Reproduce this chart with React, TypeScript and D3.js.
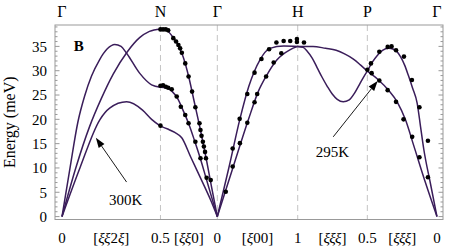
import React from 'react';
import * as d3 from 'd3';

// path legs through the bcc zone: reduced coord range and length per unit of xi
const SQ2 = Math.SQRT2;
const SQ3 = Math.sqrt(3);
const SQ6 = Math.sqrt(6);
const legs = [
  { from: 0, to: 0.5, k: SQ6, mid: '[ξξ2ξ]' },
  { from: 0.5, to: 0, k: SQ2, mid: '[ξξ0]' },
  { from: 0, to: 1, k: 1, mid: '[ξ00]' },
  { from: 1, to: 0.5, k: SQ3, mid: '[ξξξ]' },
  { from: 0.5, to: 0, k: SQ3, mid: '[ξξξ]' },
];
const points = ['Γ', 'N', 'Γ', 'H', 'P', 'Γ'];
const pointTicks = ['0', '0.5', '0', '1', '0.5', '0'];
const yMajor = [0, 5, 10, 15, 20, 25, 30, 35];

// calculated dispersion branches, [xi, meV], one list per leg
const gnA = [[0, 0], [0.04, 9.8], [0.081, 19.5], [0.115, 24.8], [0.15, 28.9], [0.19, 32.2], [0.23, 34.5], [0.268, 35.4], [0.3, 35], [0.328, 33.6], [0.394, 29.5], [0.455, 27.1], [0.5, 26.6]];
const gnB = [[0, 0], [0.07, 10], [0.14, 18.5], [0.2, 24.3], [0.26, 29.3], [0.33, 33.8], [0.394, 36.8], [0.444, 38.1], [0.5, 38.6]];
const gnC = [[0, 0], [0.091, 10], [0.192, 19.9], [0.242, 22.3], [0.328, 23.6], [0.409, 21.9], [0.455, 20], [0.5, 18.6]];
const ngA = [[0.5, 26.6], [0.45, 26.5], [0.4, 25.8], [0.35, 24.3], [0.3, 21.8], [0.25, 19], [0.2, 15.6], [0.15, 12], [0.1, 8], [0.05, 4], [0, 0]];
const ngB = [[0.5, 38.6], [0.45, 38.4], [0.4, 37.2], [0.35, 35.5], [0.3, 32.8], [0.25, 28.6], [0.2, 23.3], [0.15, 18], [0.1, 12.2], [0.05, 6], [0, 0]];
const ngC = [[0.5, 18.6], [0.436, 18], [0.374, 17.3], [0.313, 16.2], [0.233, 12.2], [0.145, 7.8], [0.057, 3.3], [0, 0]];
const ghT = [[0, 0], [0.143, 10], [0.28, 20], [0.392, 26.8], [0.529, 32.2], [0.653, 34.6], [0.827, 35.1], [1, 35]];
const ghL = [[0, 0], [0.193, 10], [0.388, 20], [0.504, 25.5], [0.616, 29.1], [0.74, 32.2], [0.902, 34.3], [1, 35]];
const hpU = [[1, 35], [0.89, 35], [0.8, 34.6], [0.724, 34.2], [0.66, 33.4], [0.6, 32.4], [0.55, 31.2], [0.5, 29.9]];
const hpD = [[1, 35], [0.961, 34.8], [0.932, 34], [0.896, 32.6], [0.86, 30.6], [0.824, 28.6], [0.788, 26.8], [0.752, 25.2], [0.716, 24.1], [0.673, 23.6], [0.63, 24], [0.594, 25.3], [0.558, 27.1], [0.529, 28.6], [0.5, 29.9]];
const pgU = [[0.5, 29.9], [0.463, 31.8], [0.427, 33.2], [0.391, 34.2], [0.348, 34.6], [0.312, 34.4], [0.262, 32.9], [0.233, 31.2], [0.205, 29], [0.176, 26.5], [0.142, 23.3], [0.118, 18.5], [0.095, 13.9], [0.047, 6.8], [0, 0]];
const pgD = [[0.5, 29.9], [0.42, 28.1], [0.348, 26], [0.284, 23.5], [0.226, 19.9], [0.169, 14.8], [0.083, 7], [0, 0]];
const curves = [[gnA, gnB, gnC], [ngA, ngB, ngC], [ghT, ghL], [hpU, hpD], [pgU, pgD]];

// measured points, [xi, meV], per leg
const ngDots = [
  [0.5, 38.5], [0.477, 38.5], [0.453, 38.5], [0.432, 38.3], [0.387, 36.7], [0.363, 36.0], [0.342, 35.3], [0.327, 34.6], [0.312, 33.7], [0.282, 31.5], [0.253, 28.8], [0.222, 25.7], [0.193, 22.5], [0.157, 19.2], [0.148, 17.8], [0.139, 16.6], [0.127, 15.4], [0.118, 14.4], [0.108, 13.3], [0.1, 12.0], [0.058, 7.5],
  [0.5, 26.9], [0.477, 27.0], [0.453, 26.7], [0.432, 26.5], [0.401, 26.2], [0.357, 24.7], [0.321, 22.6], [0.282, 20.9], [0.253, 19.2], [0.193, 15.4], [0.148, 12.0], [0.094, 8.0],
  [0.5, 18.7],
];
const ghDots = [
  [0.191, 14.0], [0.278, 20.1], [0.373, 25.2], [0.463, 29.6], [0.549, 32.4], [0.644, 34.4], [0.735, 35.8], [0.825, 36.1], [0.907, 36.1], [0.99, 36.5], [0.99, 35.9],
  [0.105, 5.1], [0.191, 10.3], [0.281, 15.1], [0.373, 19.3], [0.463, 23.5], [0.496, 25.2], [0.607, 28.8], [0.701, 31.7], [0.796, 33.6],
];
const hpDots = [[0.955, 35.8]];
const pgDots = [
  [0.5, 30.2], [0.474, 31.5], [0.414, 33.9], [0.354, 34.9], [0.326, 35.0], [0.294, 34.2], [0.237, 32.9], [0.18, 28.1], [0.126, 22.5], [0.065, 15.6],
  [0.469, 29.5], [0.414, 28.0], [0.354, 26.0], [0.294, 23.6], [0.24, 20.0], [0.178, 16.4], [0.126, 12.2], [0.065, 8.1],
];
const dots = [[], ngDots, ghDots, hpDots, pgDots];

// annotations: label, text anchor, arrow tail and head as [leg, xi, meV]
const notes = [
  { label: '300K', text: [0, 0.323, 2.3], tail: [0, 0.328, 7.1], head: [0, 0.172, 16.2] },
  { label: '295K', text: [3, 0.75, 12.2], tail: [3, 0.745, 16.4], head: [4, 0.426, 27.9] },
];

const starts: number[] = [];
legs.reduce((u, l) => { starts.push(u); return u + Math.abs(l.to - l.from) * l.k; }, 0);
const uEnd = starts[4] + 0.5 * SQ3;
const pathU = (leg: number, xi: number) => starts[leg] + Math.abs(xi - legs[leg].from) * legs[leg].k;
const nodeU = points.map((_, i) => (i < 5 ? starts[i] : uEnd));

const W = 456;
const H = 247;
const frame = { left: 55, right: 443, top: 25, bottom: 219.5 };
const ink = '#3a1d5a';
const FONT = 'Liberation Serif';

function Xi({ s }: { s: string }) {
  return (
    <>
      {s.split('').map((c, i) =>
        c === 'ξ' ? <tspan key={i} fontStyle="italic">ξ</tspan> : <tspan key={i}>{c}</tspan>
      )}
    </>
  );
}

export default function App() {
  const x = d3.scaleLinear().domain([-0.087, uEnd + 0.075]).range([frame.left, frame.right]);
  const y = d3.scaleLinear().domain([-0.6, 39.4]).range([frame.bottom, frame.top]);
  const line = d3.line<number[]>().curve(d3.curveMonotoneX);
  const px = (p: number[]) => [x(pathU(p[0], p[1])), y(p[2])];

  const minor = d3.range(0, 40, 1);

  return (
    <svg width={W} height={H} style={{ position: 'absolute', left: 0, top: 0, background: '#fff' }}>
      {/* dashed symmetry lines */}
      {nodeU.slice(1, 5).map((u, i) => (
        <line key={i} x1={x(u)} x2={x(u)} y1={frame.top} y2={frame.bottom} stroke="#c4c4c4" strokeDasharray="6,4" />
      ))}
      {/* frame */}
      <rect x={frame.left} y={frame.top} width={frame.right - frame.left} height={frame.bottom - frame.top} fill="none" stroke="#999" />
      {minor.map((v) => {
        const len = v % 5 === 0 ? 4.5 : 2.5;
        return (
          <g key={v} stroke="#999">
            <line x1={frame.left} x2={frame.left + len} y1={y(v)} y2={y(v)} />
            <line x1={frame.right} x2={frame.right - len} y1={y(v)} y2={y(v)} />
          </g>
        );
      })}
      <g fontFamily={FONT}>
        {yMajor.map((v) => (
          <text key={v} x={frame.left - 8} y={y(v)} dy="0.35em" textAnchor="end" fontSize={15}>{v}</text>
        ))}
        <text transform={`translate(15,${(frame.top + frame.bottom) / 2}) rotate(-90)`} textAnchor="middle" fontSize={16}>Energy (meV)</text>
        {points.map((p, i) => (
          <text key={i} x={x(nodeU[i])} y={17} textAnchor="middle" fontSize={16}>{p}</text>
        ))}
        {pointTicks.map((t, i) => (
          <text key={i} x={x(nodeU[i])} y={243} textAnchor="middle" fontSize={15}>{t}</text>
        ))}
        {legs.map((l, i) => (
          <text key={i} x={x((nodeU[i] + nodeU[i + 1]) / 2)} y={243} textAnchor="middle" fontSize={15}><Xi s={l.mid} /></text>
        ))}
      </g>
      {/* branches */}
      {curves.map((set, leg) =>
        set.map((c, j) => (
          <path key={`${leg}-${j}`} d={line(c.map((p) => [x(pathU(leg, p[0])), y(p[1])]) as any) || ''} fill="none" stroke={ink} strokeWidth={1.5} />
        ))
      )}
      {/* data */}
      {dots.map((set, leg) =>
        set.map((p, j) => <circle key={`${leg}-${j}`} cx={x(pathU(leg, p[0]))} cy={y(p[1])} r={2.3} fill="#000" />)
      )}
      <text x={x(pathU(0, 0.06))} y={y(34)} fontSize={15} fontWeight="bold" fontFamily={FONT}>B</text>
      {notes.map((n, i) => {
        const [tx, ty] = px(n.text);
        const [ax, ay] = px(n.tail);
        const [bx, by] = px(n.head);
        const ang = Math.atan2(by - ay, bx - ax);
        const hl = 10;
        const hw = 3.5;
        const baseX = bx - hl * Math.cos(ang);
        const baseY = by - hl * Math.sin(ang);
        const nx = -Math.sin(ang) * hw;
        const ny = Math.cos(ang) * hw;
        return (
          <g key={i}>
            <line x1={ax} y1={ay} x2={baseX} y2={baseY} stroke="#000" strokeWidth={0.9} />
            <polygon points={`${bx},${by} ${baseX + nx},${baseY + ny} ${baseX - nx},${baseY - ny}`} fill="#000" />
            <text x={tx} y={ty} textAnchor="middle" fontSize={15} fontFamily={FONT}>{n.label}</text>
          </g>
        );
      })}
    </svg>
  );
}
